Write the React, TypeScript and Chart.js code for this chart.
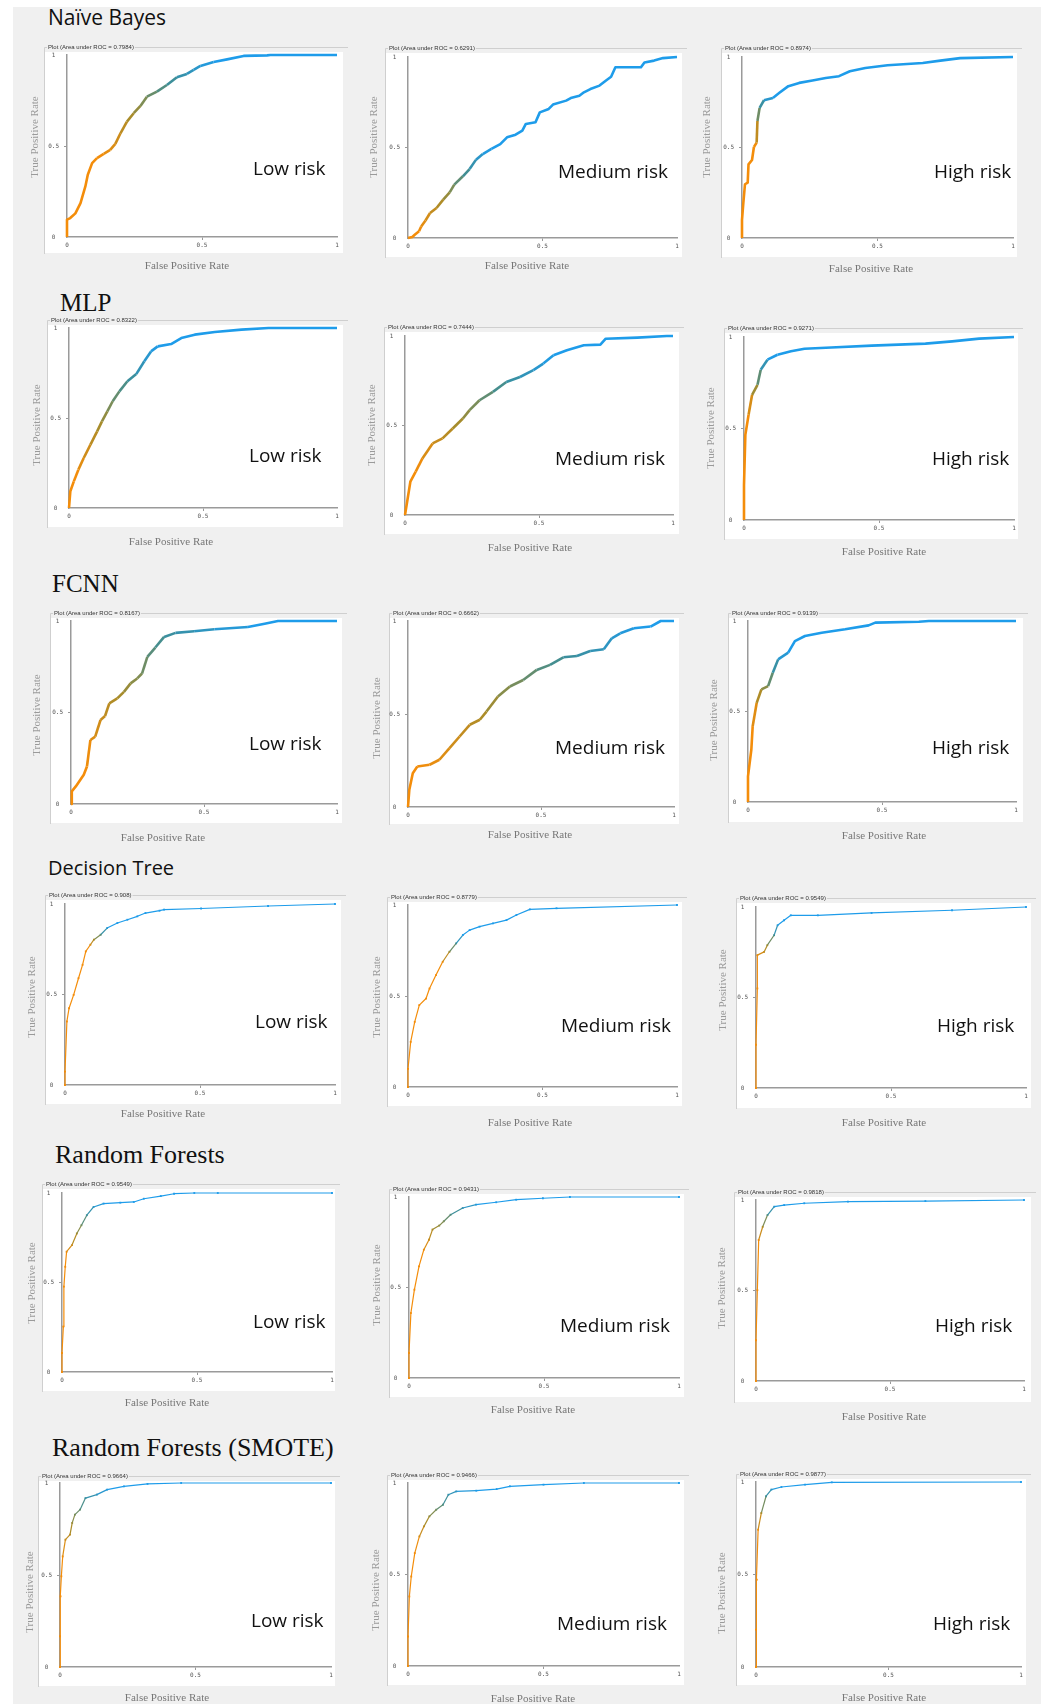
import React, { useEffect, useRef } from 'react';
import { Chart, registerables } from 'chart.js';

Chart.register(...registerables);

// ---------------- data ----------------
const MODELS = ['Naïve Bayes', 'MLP', 'FCNN', 'Decision Tree', 'Random Forests', 'Random Forests (SMOTE)'];
const RISK_LABELS = ['Low risk', 'Medium risk', 'High risk'];
const X_TITLE = 'False Positive Rate';
const Y_TITLE = 'True Positive Rate';

const AUC_NB = ['0.7984', '0.6291', '0.8974'];
const AUC_MLP = ['0.8322', '0.7444', '0.9271'];
const AUC_FCNN = ['0.8167', '0.6662', '0.9139'];
const AUC_DT = ['0.908', '0.8779', '0.9549'];
const AUC_RF = ['0.9549', '0.9431', '0.9818'];
const AUC_SMOTE = ['0.9664', '0.9466', '0.9877'];

// ROC points [FPR, TPR]
const nbLow = [[0,0],[0,0.095],[0.012,0.104],[0.031,0.13],[0.05,0.186],[0.068,0.278],[0.077,0.342],[0.093,0.406],[0.111,0.433],[0.136,0.457],[0.16,0.479],[0.179,0.512],[0.198,0.57],[0.222,0.634],[0.247,0.68],[0.272,0.72],[0.296,0.771],[0.333,0.799],[0.37,0.835],[0.407,0.878],[0.444,0.896],[0.469,0.918],[0.494,0.94],[0.543,0.962],[0.593,0.976],[0.654,0.995],[0.741,0.998],[0.753,1],[1,1]];
const nbMed = [[0,0],[0.016,0.006],[0.025,0.018],[0.041,0.037],[0.049,0.064],[0.065,0.097],[0.082,0.138],[0.106,0.166],[0.131,0.212],[0.155,0.252],[0.172,0.295],[0.204,0.341],[0.229,0.381],[0.253,0.433],[0.278,0.464],[0.31,0.492],[0.343,0.519],[0.368,0.556],[0.4,0.571],[0.425,0.593],[0.438,0.63],[0.474,0.639],[0.49,0.694],[0.523,0.713],[0.539,0.737],[0.588,0.759],[0.605,0.773],[0.637,0.786],[0.654,0.805],[0.678,0.823],[0.712,0.842],[0.735,0.869],[0.755,0.891],[0.771,0.943],[0.866,0.943],[0.879,0.97],[0.915,0.98],[0.948,0.994],[1,1]];
const nbHigh = [[0,0],[0,0.1],[0.005,0.196],[0.011,0.297],[0.021,0.306],[0.024,0.407],[0.037,0.431],[0.044,0.503],[0.054,0.527],[0.057,0.646],[0.065,0.719],[0.081,0.761],[0.114,0.774],[0.138,0.802],[0.171,0.839],[0.211,0.857],[0.26,0.87],[0.309,0.884],[0.358,0.894],[0.398,0.921],[0.455,0.939],[0.537,0.954],[0.667,0.967],[0.732,0.98],[0.805,0.994],[1,1]];

const mlpLow = [[0,0],[0.005,0.093],[0.018,0.148],[0.035,0.213],[0.055,0.278],[0.08,0.352],[0.105,0.426],[0.123,0.481],[0.143,0.537],[0.163,0.593],[0.188,0.648],[0.218,0.704],[0.251,0.744],[0.281,0.815],[0.306,0.87],[0.331,0.898],[0.381,0.911],[0.419,0.944],[0.469,0.963],[0.544,0.978],[0.644,0.991],[0.744,1],[1,1]];
const mlpMed = [[0,0],[0.008,0.074],[0.02,0.186],[0.04,0.242],[0.065,0.316],[0.103,0.4],[0.14,0.428],[0.178,0.483],[0.216,0.539],[0.241,0.586],[0.278,0.641],[0.328,0.688],[0.378,0.743],[0.429,0.771],[0.479,0.809],[0.516,0.846],[0.554,0.892],[0.604,0.92],[0.667,0.948],[0.729,0.952],[0.749,0.985],[0.867,0.991],[0.977,1],[1,1]];
const mlpHigh = [[0,0],[0,0.19],[0.005,0.465],[0.017,0.575],[0.03,0.684],[0.05,0.739],[0.062,0.821],[0.087,0.876],[0.124,0.903],[0.174,0.922],[0.224,0.936],[0.323,0.943],[0.473,0.953],[0.672,0.964],[0.771,0.976],[0.871,0.991],[1,1]];

const fcnnLow = [[0,0],[0.003,0.069],[0.018,0.096],[0.048,0.16],[0.06,0.205],[0.073,0.35],[0.091,0.368],[0.111,0.459],[0.128,0.481],[0.144,0.55],[0.174,0.577],[0.199,0.613],[0.224,0.659],[0.249,0.686],[0.267,0.713],[0.287,0.804],[0.317,0.855],[0.35,0.913],[0.393,0.935],[0.463,0.944],[0.539,0.955],[0.665,0.967],[0.728,0.985],[0.778,1],[1,1]];
const fcnnMed = [[0,0],[0.005,0.093],[0.018,0.182],[0.035,0.218],[0.081,0.227],[0.118,0.254],[0.156,0.317],[0.194,0.379],[0.232,0.442],[0.27,0.469],[0.295,0.513],[0.338,0.594],[0.383,0.648],[0.433,0.683],[0.484,0.737],[0.534,0.764],[0.584,0.805],[0.635,0.812],[0.685,0.839],[0.736,0.848],[0.766,0.907],[0.798,0.934],[0.849,0.961],[0.912,0.97],[0.95,1],[1,1]];
const fcnnHigh = [[0,0],[0,0.142],[0.0125,0.29],[0.0175,0.419],[0.0325,0.548],[0.05,0.622],[0.075,0.64],[0.0925,0.714],[0.1125,0.788],[0.15,0.825],[0.175,0.889],[0.2125,0.917],[0.275,0.935],[0.3625,0.954],[0.45,0.976],[0.475,0.991],[0.6375,0.996],[0.675,1],[1,1]];

const dtLow = [[0,0],[0,0.074],[0.007,0.351],[0.015,0.424],[0.032,0.498],[0.05,0.59],[0.065,0.664],[0.077,0.738],[0.094,0.775],[0.107,0.803],[0.132,0.83],[0.156,0.867],[0.194,0.895],[0.231,0.913],[0.268,0.932],[0.298,0.95],[0.35,0.963],[0.367,0.969],[0.504,0.975],[0.752,0.989],[1,1]];
const dtMed = [[0,0],[0,0.1],[0.01,0.248],[0.025,0.358],[0.042,0.45],[0.067,0.486],[0.08,0.541],[0.104,0.615],[0.129,0.688],[0.154,0.743],[0.179,0.789],[0.204,0.835],[0.229,0.862],[0.266,0.881],[0.316,0.899],[0.366,0.917],[0.403,0.945],[0.453,0.976],[0.552,0.982],[1,1]];
const dtHigh = [[0,0],[0,0.239],[0.005,0.55],[0.005,0.734],[0.03,0.752],[0.042,0.789],[0.067,0.844],[0.08,0.899],[0.104,0.927],[0.129,0.954],[0.229,0.954],[0.428,0.967],[0.726,0.982],[1,1]];

const rfLow = [[0,0],[0,0.106],[0.005,0.254],[0.007,0.477],[0.012,0.588],[0.017,0.672],[0.037,0.709],[0.055,0.774],[0.072,0.82],[0.092,0.876],[0.117,0.922],[0.154,0.941],[0.216,0.946],[0.266,0.95],[0.303,0.968],[0.366,0.983],[0.415,0.996],[0.49,1],[0.577,1],[1,1]];
const rfMed = [[0,0],[0,0.138],[0.007,0.359],[0.02,0.488],[0.037,0.617],[0.055,0.709],[0.074,0.764],[0.087,0.82],[0.112,0.842],[0.129,0.866],[0.154,0.902],[0.199,0.939],[0.248,0.958],[0.323,0.971],[0.397,0.985],[0.496,0.993],[0.596,1],[1,1]];
const rfHigh = [[0,0],[0,0.225],[0.005,0.502],[0.01,0.779],[0.025,0.852],[0.043,0.917],[0.068,0.963],[0.105,0.972],[0.18,0.982],[0.343,0.991],[0.632,0.994],[1,1]];

const smLow = [[0,0],[0,0.167],[0.002,0.384],[0.005,0.493],[0.01,0.601],[0.02,0.692],[0.037,0.719],[0.045,0.783],[0.055,0.828],[0.074,0.855],[0.094,0.918],[0.136,0.937],[0.174,0.964],[0.236,0.982],[0.323,0.995],[0.447,1],[1,1]];
const smMed = [[0,0],[0,0.161],[0.005,0.38],[0.012,0.489],[0.025,0.617],[0.042,0.708],[0.059,0.763],[0.079,0.818],[0.104,0.854],[0.129,0.881],[0.149,0.936],[0.178,0.954],[0.252,0.958],[0.327,0.967],[0.376,0.982],[0.5,0.991],[0.649,1],[1,1]];
const smHigh = [[0,0],[0,0.202],[0.003,0.472],[0.008,0.742],[0.02,0.832],[0.038,0.923],[0.058,0.959],[0.096,0.973],[0.185,0.986],[0.286,0.998],[1,1]];

const CURVES = [nbLow, nbMed, nbHigh, mlpLow, mlpMed, mlpHigh, fcnnLow, fcnnMed, fcnnHigh, dtLow, dtMed, dtHigh, rfLow, rfMed, rfHigh, smLow, smMed, smHigh];
const AUCS = [AUC_NB, AUC_MLP, AUC_FCNN, AUC_DT, AUC_RF, AUC_SMOTE];

// ---------------- layout & style ----------------
// fl/ft frame left/top, wr/wb white right/bottom, x0/x1 pixel of FPR 0/1, y0/y1 pixel of TPR 0/1,
// fx/fy x-title centre, tx/ty y-title centre, rx/ry risk label
type Lay = { fl: number; ft: number; wr: number; wb: number; x0: number; x1: number; y0: number; y1: number; fx: number; fy: number; tx: number; ty: number; rx: number; ry: number };
const LAYOUT: Lay[] = [
  { fl: 44, ft: 47, wr: 343, wb: 253, x0: 67, x1: 337, y0: 237, y1: 55, fx: 187, fy: 266, tx: 35, ty: 137, rx: 253, ry: 170 },
  { fl: 385, ft: 48, wr: 682, wb: 257, x0: 408, x1: 677, y0: 238, y1: 57, fx: 527, fy: 266, tx: 374, ty: 137, rx: 558, ry: 173 },
  { fl: 721, ft: 48, wr: 1017, wb: 257, x0: 742, x1: 1013, y0: 238, y1: 57, fx: 871, fy: 269, tx: 707, ty: 137, rx: 934, ry: 173 },
  { fl: 47, ft: 320, wr: 343, wb: 527, x0: 69, x1: 337, y0: 508, y1: 328, fx: 171, fy: 542, tx: 37, ty: 425, rx: 249, ry: 457 },
  { fl: 384, ft: 327, wr: 679, wb: 534, x0: 405, x1: 673, y0: 515, y1: 336, fx: 530, fy: 548, tx: 372, ty: 425, rx: 555, ry: 460 },
  { fl: 724, ft: 328, wr: 1018, wb: 539, x0: 744, x1: 1014, y0: 520, y1: 337, fx: 884, fy: 552, tx: 711, ty: 428, rx: 932, ry: 460 },
  { fl: 50, ft: 613, wr: 342, wb: 823, x0: 71, x1: 337, y0: 804, y1: 621, fx: 163, fy: 838, tx: 37, ty: 715, rx: 249, ry: 745 },
  { fl: 389, ft: 613, wr: 679, wb: 824, x0: 408, x1: 674, y0: 807, y1: 621, fx: 530, fy: 835, tx: 377, ty: 718, rx: 555, ry: 749 },
  { fl: 728, ft: 613, wr: 1023, wb: 822, x0: 748, x1: 1016, y0: 802, y1: 621, fx: 884, fy: 836, tx: 714, ty: 720, rx: 932, ry: 749 },
  { fl: 45, ft: 895, wr: 341, wb: 1104, x0: 65, x1: 335, y0: 1085, y1: 904, fx: 163, fy: 1114, tx: 32, ty: 997, rx: 255, ry: 1023 },
  { fl: 387, ft: 897, wr: 682, wb: 1106, x0: 408, x1: 677, y0: 1087, y1: 905, fx: 530, fy: 1123, tx: 377, ty: 997, rx: 561, ry: 1027 },
  { fl: 736, ft: 898, wr: 1031, wb: 1108, x0: 756, x1: 1026, y0: 1088, y1: 907, fx: 884, fy: 1123, tx: 723, ty: 990, rx: 937, ry: 1027 },
  { fl: 42, ft: 1184, wr: 335, wb: 1391, x0: 62, x1: 332, y0: 1372, y1: 1193, fx: 167, fy: 1403, tx: 32, ty: 1283, rx: 253, ry: 1323 },
  { fl: 389, ft: 1189, wr: 684, wb: 1397, x0: 409, x1: 679, y0: 1378, y1: 1197, fx: 533, fy: 1410, tx: 377, ty: 1285, rx: 560, ry: 1327 },
  { fl: 734, ft: 1192, wr: 1031, wb: 1402, x0: 756, x1: 1024, y0: 1381, y1: 1200, fx: 884, fy: 1417, tx: 722, ty: 1288, rx: 935, ry: 1327 },
  { fl: 38, ft: 1476, wr: 335, wb: 1686, x0: 60, x1: 331, y0: 1667, y1: 1483, fx: 167, fy: 1698, tx: 30, ty: 1592, rx: 251, ry: 1622 },
  { fl: 387, ft: 1475, wr: 684, wb: 1685, x0: 408, x1: 679, y0: 1666, y1: 1483, fx: 533, fy: 1699, tx: 376, ty: 1590, rx: 557, ry: 1625 },
  { fl: 736, ft: 1474, wr: 1026, wb: 1685, x0: 756, x1: 1021, y0: 1667, y1: 1482, fx: 884, fy: 1698, tx: 722, ty: 1593, rx: 933, ry: 1625 },
];

// colour blend range (progress (x+y)/2 where orange ends / blue starts)
const BLEND: [number, number][] = [
  [0.28, 0.76], [0.04, 0.4], [0.28, 0.45],
  [0.1, 0.62], [0.15, 0.72], [0.3, 0.5],
  [0.15, 0.83], [0.12, 0.93], [0.23, 0.49],
  [0.42, 0.52], [0.4, 0.52], [0.36, 0.5],
  [0.33, 0.55], [0.37, 0.62], [0.39, 0.53],
  [0.3, 0.58], [0.34, 0.6], [0.37, 0.53],
];

const TITLE_POS = [
  { left: 48, top: 7, size: 21, serif: false },
  { left: 60, top: 290, size: 25, serif: true },
  { left: 52, top: 571, size: 25, serif: true },
  { left: 48, top: 858, size: 20, serif: false },
  { left: 55, top: 1142, size: 26, serif: true },
  { left: 52, top: 1435, size: 26, serif: true },
];

const STOP_T = [0, 0.35, 0.7, 1];
const STOP_C = [[244, 141, 10], [168, 140, 42], [62, 142, 150], [30, 156, 234]];

function mix(t: number): string {
  const u = Math.max(0, Math.min(1, t));
  let s = 0;
  while (s < 2 && u > STOP_T[s + 1]) s++;
  const f = (u - STOP_T[s]) / (STOP_T[s + 1] - STOP_T[s]);
  const a = STOP_C[s], b = STOP_C[s + 1];
  const c = a.map((v, i) => Math.round(v + (b[i] - v) * f));
  return `rgb(${c[0]},${c[1]},${c[2]})`;
}
function colorAt(x: number, y: number, bl: [number, number]): string {
  const p = (x + y) / 2;
  return mix((p - bl[0]) / (bl[1] - bl[0]));
}

function Panel({ idx }: { idx: number }) {
  const ref = useRef<HTMLCanvasElement | null>(null);
  const lay = LAYOUT[idx];
  const left = lay.tx - 9;
  const top = lay.ft - 6;
  const right = lay.wr + 8;
  const bottom = lay.fy + 9;
  const W = right - left;
  const H = bottom - top;
  const row = Math.floor(idx / 3);
  const col = idx % 3;
  const thin = row >= 3;
  const bl = BLEND[idx];
  const auc = AUCS[row][col];

  useEffect(() => {
    const canvas = ref.current;
    if (!canvas) return;
    const ox = left, oy = top;
    const decor = {
      id: 'rocDecor',
      beforeDraw(chart: any) {
        const ctx = chart.ctx as CanvasRenderingContext2D;
        ctx.save();
        ctx.fillStyle = '#ffffff';
        ctx.fillRect(lay.fl + 1 - ox, lay.ft + 5 - oy, lay.wr - lay.fl - 1, lay.wb - lay.ft - 5);
        ctx.strokeStyle = '#cfcfcf';
        ctx.lineWidth = 1;
        ctx.beginPath();
        ctx.moveTo(lay.fl + 0.5 - ox, lay.wb + 1 - oy);
        ctx.lineTo(lay.fl + 0.5 - ox, lay.ft + 0.5 - oy);
        ctx.lineTo(lay.wr + 5 - ox, lay.ft + 0.5 - oy);
        ctx.stroke();
        const txt = `Plot (Area under ROC = ${auc})`;
        ctx.font = '6px "Liberation Sans"';
        const w = ctx.measureText(txt).width;
        ctx.fillStyle = '#f0f0f0';
        ctx.fillRect(lay.fl + 3 - ox, lay.ft - 3 - oy, w + 2, 6);
        ctx.fillStyle = '#333333';
        ctx.textBaseline = 'middle';
        ctx.textAlign = 'left';
        ctx.fillText(txt, lay.fl + 4 - ox, lay.ft + 0.5 - oy);
        ctx.restore();
      },
      afterDraw(chart: any) {
        const ctx = chart.ctx as CanvasRenderingContext2D;
        ctx.save();
        ctx.fillStyle = '#111111';
        ctx.font = '19px "Open Sans"';
        ctx.textAlign = 'left';
        ctx.textBaseline = 'middle';
        ctx.fillText(RISK_LABELS[col], lay.rx - ox, lay.ry - oy);
        ctx.font = '11px "Liberation Serif"';
        ctx.fillStyle = '#777777';
        ctx.textAlign = 'center';
        ctx.fillText(X_TITLE, lay.fx - ox, lay.fy - oy);
        ctx.translate(lay.tx - ox, lay.ty - oy);
        ctx.rotate(-Math.PI / 2);
        ctx.fillStyle = '#9a9a9a';
        ctx.fillText(Y_TITLE, 0, 0);
        ctx.restore();
      },
    };

    const pts = CURVES[idx].map(([x, y]) => ({ x, y }));
    const tickFont = { family: '"DejaVu Sans Mono", monospace', size: 6 };
    const gridColor = (c: any) => (c.tick && c.tick.value === 0.5 ? '#999999' : 'rgba(0,0,0,0)');

    const chart = new Chart(canvas, {
      type: 'line',
      data: {
        datasets: [
          {
            data: pts,
            borderColor: '#1e9cea',
            borderWidth: thin ? 1.2 : 2.6,
            pointRadius: thin ? 1.3 : 0,
            pointStyle: 'rect',
            pointBorderWidth: 0,
            pointBackgroundColor: (c: any) => (c.raw ? colorAt(c.raw.x, c.raw.y, bl) : '#1e9cea'),
            segment: {
              borderColor: (c: any) =>
                colorAt((c.p0.parsed.x + c.p1.parsed.x) / 2, (c.p0.parsed.y + c.p1.parsed.y) / 2, bl),
            },
            tension: 0,
            fill: false,
            borderJoinStyle: 'round',
            clip: 8,
          } as any,
        ],
      },
      options: {
        animation: false,
        responsive: false,
        maintainAspectRatio: false,
        events: [],
        layout: {
          autoPadding: false,
          padding: { left: 0, top: lay.y1 - top, right: right - lay.x1, bottom: 0 },
        },
        plugins: { legend: { display: false }, tooltip: { enabled: false }, title: { display: false } },
        scales: {
          x: {
            type: 'linear',
            min: 0,
            max: 1,
            afterFit: (s: any) => {
              s.height = bottom - lay.y0;
            },
            ticks: { stepSize: 0.5, callback: (v: any) => String(v), font: tickFont, color: '#555555', padding: 2, maxRotation: 0, autoSkip: false },
            grid: { drawOnChartArea: false, drawTicks: true, tickLength: 3, color: gridColor },
            border: { display: true, color: '#9a9a9a', width: 1.5 },
          },
          y: {
            type: 'linear',
            min: 0,
            max: 1,
            afterFit: (s: any) => {
              s.width = lay.x0 - left;
            },
            ticks: { stepSize: 0.5, callback: (v: any) => String(v), font: tickFont, color: '#555555', padding: 5, crossAlign: 'center', autoSkip: false },
            grid: { drawOnChartArea: false, drawTicks: true, tickLength: 3, color: gridColor },
            border: { display: true, color: '#9a9a9a', width: 1.5 },
          },
        },
      } as any,
      plugins: [decor],
    });
    return () => chart.destroy();
  }, []);

  return (
    <canvas
      ref={ref}
      width={W}
      height={H}
      style={{ position: 'absolute', left, top, width: W, height: H, display: 'block' }}
    />
  );
}

export default function App() {
  return (
    <div style={{ position: 'absolute', left: 0, top: 0, width: 1046, height: 1704, overflow: 'hidden', background: '#ffffff' }}>
      <div style={{ position: 'absolute', left: 13, top: 7, width: 1028, height: 1697, background: '#f0f0f0' }} />
      {MODELS.map((m, i) => {
        const t = TITLE_POS[i];
        return (
          <div
            key={m}
            style={{
              position: 'absolute',
              left: t.left,
              top: t.top,
              fontSize: t.size,
              lineHeight: 1,
              whiteSpace: 'nowrap',
              color: '#111111',
              fontFamily: t.serif ? '"Liberation Serif", serif' : '"Open Sans", sans-serif',
            }}
          >
            {m}
          </div>
        );
      })}
      {LAYOUT.map((_, i) => (
        <Panel key={i} idx={i} />
      ))}
    </div>
  );
}
